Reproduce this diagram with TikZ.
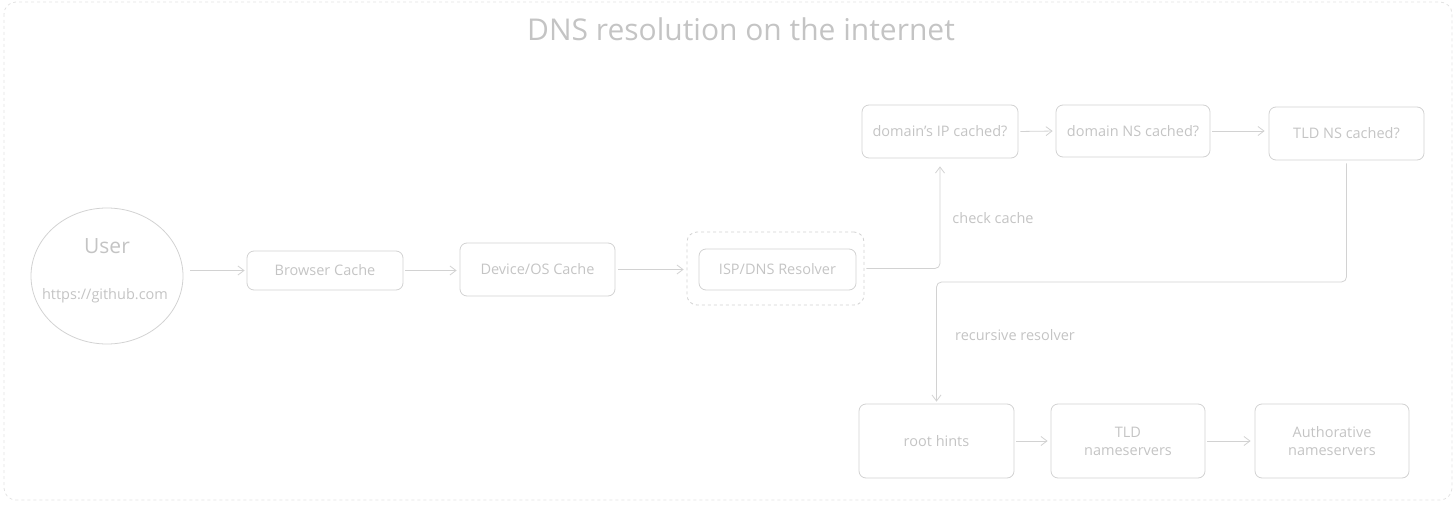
\documentclass[tikz,border=0pt]{standalone}
\usepackage{fontspec}
\setmainfont{Open Sans}
\usetikzlibrary{arrows.meta,shapes.geometric}
\definecolor{txt}{HTML}{C4C4C4}
\definecolor{ln}{HTML}{D2D2D2}
\definecolor{frm}{HTML}{E2E2E2}
\tikzset{
  box/.style={draw=ln, line width=0.8pt, rounded corners=7pt, text=txt, font=\fontsize{14.5}{18}\selectfont, align=center, inner sep=0pt},
  lbl/.style={text=txt, font=\fontsize{14.5}{18}\selectfont, inner sep=0pt},
  conn/.style={draw=ln, line width=0.8pt, -{Straight Barb[length=6pt,width=9pt]}},
}
\begin{document}
\begin{tikzpicture}[x=1pt,y=-1pt]
\useasboundingbox (0,0) rectangle (1456,505);
\draw[frm, line width=0.8pt, dashed, rounded corners=12pt] (4,2) rectangle (1452,500);
\node[text=txt, font=\fontsize{30}{36}\selectfont] (title) at (741,29) {DNS resolution on the internet};

\node[draw=ln, line width=0.8pt, ellipse, minimum width=152pt, minimum height=136pt] (user) at (107,276) {};
\node[text=txt, font=\fontsize{21}{25}\selectfont] (usert) at (107,246) {User};
\node[text=txt, font=\fontsize{14.5}{18}\selectfont] (url) at (105,296) {https://github.com};

\node[box, minimum width=156pt, minimum height=39pt] (bc) at (325,270.5) {Browser Cache};
\node[box, minimum width=155pt, minimum height=53pt] (dev) at (537.5,269.5) {Device/OS Cache};
\node[draw=ln, line width=0.8pt, dashed, rounded corners=10pt, minimum width=177pt, minimum height=73pt] (grp) at (775.5,268.5) {};
\node[box, minimum width=157pt, minimum height=41pt] (isp) at (777.5,269.5) {ISP/DNS Resolver};

\node[box, minimum width=156pt, minimum height=53pt] (dip) at (940,131.5) {domain's IP cached?};
\node[box, minimum width=154pt, minimum height=52pt] (dns) at (1133,131) {domain NS cached?};
\node[box, minimum width=155pt, minimum height=53pt] (tld) at (1346.5,133.5) {TLD NS cached?};

\node[box, minimum width=155pt, minimum height=74pt] (root) at (936.5,441) {root hints};
\node[box, minimum width=154pt, minimum height=74pt] (tldn) at (1128,441) {TLD\\nameservers};
\node[box, minimum width=154pt, minimum height=74pt] (auth) at (1332,441) {Authorative\\nameservers};

\node[lbl] (cc) at (993,218) {check cache};
\node[lbl] (rr) at (1015,335) {recursive resolver};

\draw[conn, shorten <=7pt, shorten >=2pt] (user.east |- bc.west) -- (bc.west);
\draw[conn, shorten <=2pt, shorten >=3pt] (bc.east) -- (dev.west |- bc.east);
\draw[conn, shorten <=3pt, shorten >=3pt] (dev.east) -- (grp.west |- dev.east);
\draw[conn, rounded corners=5pt, shorten <=2pt, shorten >=8pt] (grp.east) -| (dip.south);
\draw[conn, shorten <=2pt, shorten >=3pt] (dip.east) -- (dns.west);
\draw[conn, shorten <=2pt, shorten >=4pt] (dns.east) -- (tld.west |- dns.east);
\coordinate (bend) at (936.5,282);
\draw[conn, rounded corners=5pt, shorten <=3pt, shorten >=2pt] (tld.south) |- (bend) -- (root.north);
\draw[conn, shorten <=2pt, shorten >=3pt] (root.east) -- (tldn.west);
\draw[conn, shorten <=2pt, shorten >=4pt] (tldn.east) -- (auth.west);
\end{tikzpicture}
\end{document}
